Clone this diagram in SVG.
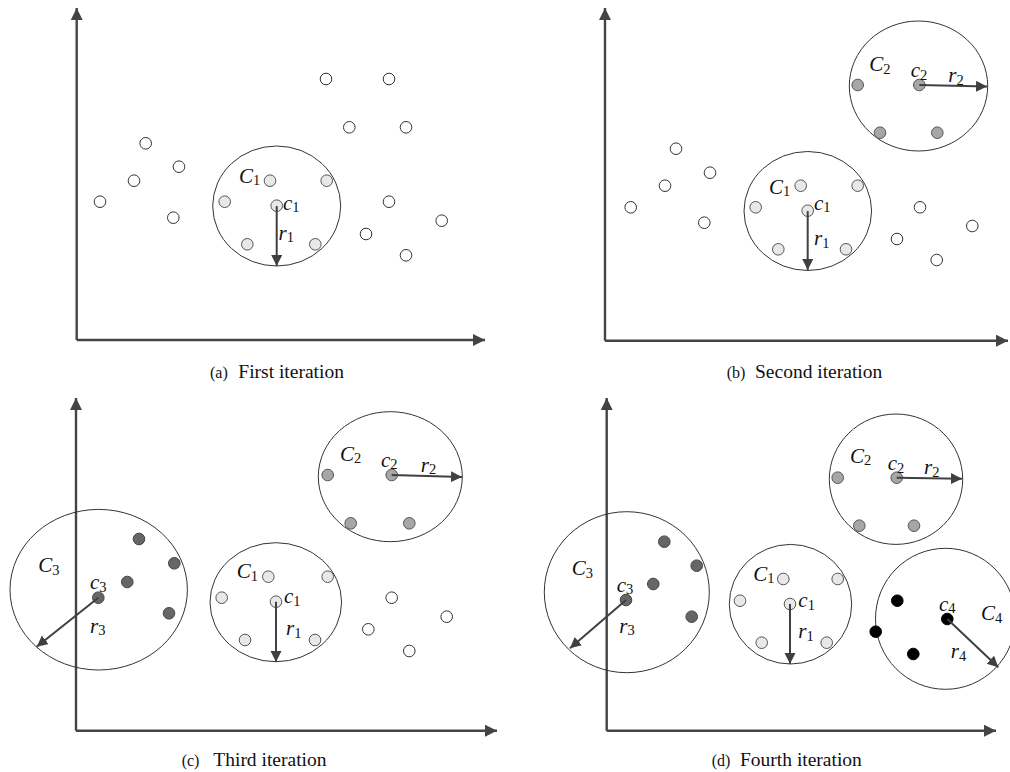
<svg xmlns="http://www.w3.org/2000/svg" width="1010" height="772" viewBox="0 0 1010 772">
<style>
.ax{stroke:#444;stroke-width:2.4;fill:none}
.cl{stroke:#333;stroke-width:1;fill:none}
.ar{stroke:#404040;stroke-width:2;fill:none}
.p0{fill:#fff;stroke:#333;stroke-width:1}
.p1{fill:#e8e8e8;stroke:#555;stroke-width:1}
.p2{fill:#a6a6a6;stroke:#555;stroke-width:1}
.p3{fill:#666;stroke:#444;stroke-width:1}
.p4{fill:#000;stroke:#000;stroke-width:1}
.lb{font-family:"Liberation Serif","Times New Roman",serif;font-size:21px;font-style:italic;fill:#111}
.sb{font-style:normal;font-size:14.5px}
.cap{font-family:"Liberation Serif","Times New Roman",serif;font-size:19.5px;fill:#111}
.capl{font-size:16px}
</style>
<defs>
<marker id="ah" markerUnits="userSpaceOnUse" markerWidth="12" markerHeight="12" refX="11" refY="5.5" orient="auto"><path d="M0,0 L11,5.5 L0,11 z" fill="#404040"/></marker>
<marker id="axh" markerUnits="userSpaceOnUse" markerWidth="13" markerHeight="13" refX="12" refY="6" orient="auto"><path d="M0,0 L12,6 L0,12 z" fill="#444"/></marker>
</defs>
<rect width="1010" height="772" fill="#fff"/>

<!-- Panel a -->
<g id="panel-a">
<g id="axes-a"><path class="ax" d="M76.7,340 V8" marker-end="url(#axh)"/><path class="ax" d="M76.7,340 H485" marker-end="url(#axh)"/></g>
<g id="cluster-a-C1"><ellipse class="cl" cx="276.7" cy="206" rx="64" ry="60"/>
<circle class="p1" cx="270" cy="180.7" r="5.8"/><circle class="p1" cx="326.7" cy="180.7" r="5.8"/><circle class="p1" cx="224.7" cy="201.7" r="5.8"/><circle class="p1" cx="276.7" cy="205.7" r="5.8"/><circle class="p1" cx="247.3" cy="244.3" r="5.8"/><circle class="p1" cx="315.3" cy="244.3" r="5.8"/></g>
<g id="points-a">
<circle class="p0" cx="326" cy="79" r="5.8"/><circle class="p0" cx="389" cy="79" r="5.8"/><circle class="p0" cx="349.3" cy="127.3" r="5.8"/><circle class="p0" cx="406" cy="127.3" r="5.8"/><circle class="p0" cx="145.7" cy="143.3" r="5.8"/><circle class="p0" cx="179" cy="166.7" r="5.8"/><circle class="p0" cx="134" cy="180.7" r="5.8"/><circle class="p0" cx="100" cy="201.7" r="5.8"/><circle class="p0" cx="173.3" cy="217.7" r="5.8"/><circle class="p0" cx="389" cy="201.7" r="5.8"/><circle class="p0" cx="441.7" cy="220.7" r="5.8"/><circle class="p0" cx="366" cy="234" r="5.8"/><circle class="p0" cx="406" cy="255.3" r="5.8"/>
</g>
<g id="labels-a">
<text class="lb" x="239" y="182.5">C<tspan class="sb" dy="2.5">1</tspan></text>
<text class="lb" x="283" y="209.5">c<tspan class="sb" dy="2.5">1</tspan></text>
<text class="lb" x="278.5" y="239.5">r<tspan class="sb" dy="2.5">1</tspan></text>
</g>
<text class="cap" x="210" y="377.7"><tspan class="capl">(a)</tspan><tspan x="238.3">First iteration</tspan></text>
</g>

<!-- Panel b -->
<g id="panel-b">
<g id="axes-b"><path class="ax" d="M605,340.7 V8" marker-end="url(#axh)"/><path class="ax" d="M605,340.7 H1008" marker-end="url(#axh)"/></g>
<g id="cluster-b-C2"><ellipse class="cl" cx="918.5" cy="86" rx="69.2" ry="65"/>
<circle class="p2" cx="857.7" cy="85" r="5.8"/><circle class="p2" cx="919.3" cy="85" r="5.8"/><circle class="p2" cx="880" cy="132.7" r="5.8"/><circle class="p2" cx="937.3" cy="132.7" r="5.8"/></g>
<g id="cluster-b-C1"><ellipse class="cl" cx="807.8" cy="211" rx="63.8" ry="59.5"/>
<circle class="p1" cx="800.7" cy="185.7" r="5.8"/><circle class="p1" cx="857.7" cy="185.7" r="5.8"/><circle class="p1" cx="755.7" cy="207.3" r="5.8"/><circle class="p1" cx="807.7" cy="210.7" r="5.8"/><circle class="p1" cx="778.3" cy="249.3" r="5.8"/><circle class="p1" cx="846" cy="249.3" r="5.8"/></g>
<g id="points-b">
<circle class="p0" cx="676" cy="148.7" r="5.8"/><circle class="p0" cx="710" cy="172.7" r="5.8"/><circle class="p0" cx="665" cy="185.7" r="5.8"/><circle class="p0" cx="630.7" cy="207.3" r="5.8"/><circle class="p0" cx="704.3" cy="222.7" r="5.8"/><circle class="p0" cx="920" cy="207.3" r="5.8"/><circle class="p0" cx="972.3" cy="226" r="5.8"/><circle class="p0" cx="897" cy="239" r="5.8"/><circle class="p0" cx="936.7" cy="260" r="5.8"/>
</g>
<g id="labels-b">
<text class="lb" x="869.3" y="71">C<tspan class="sb" dy="2.5">2</tspan></text>
<text class="lb" x="910.7" y="77">c<tspan class="sb" dy="2.5">2</tspan></text>
<text class="lb" x="948.3" y="82">r<tspan class="sb" dy="2.5">2</tspan></text>
<text class="lb" x="769" y="193.5">C<tspan class="sb" dy="2.5">1</tspan></text>
<text class="lb" x="814" y="209.5">c<tspan class="sb" dy="2.5">1</tspan></text>
<text class="lb" x="814" y="245">r<tspan class="sb" dy="2.5">1</tspan></text>
</g>
<text class="cap" x="726.7" y="377.7"><tspan class="capl">(b)</tspan><tspan x="755">Second iteration</tspan></text>
</g>

<!-- Panel c -->
<g id="panel-c">
<g id="axes-c"><path class="ax" d="M76,730.7 V398" marker-end="url(#axh)"/><path class="ax" d="M76,730.7 H497" marker-end="url(#axh)"/></g>
<g id="cluster-c-C2"><ellipse class="cl" cx="390.3" cy="476.7" rx="72" ry="65"/>
<circle class="p2" cx="327.7" cy="475" r="5.8"/><circle class="p2" cx="391.7" cy="475" r="5.8"/><circle class="p2" cx="350.7" cy="523.3" r="5.8"/><circle class="p2" cx="409.3" cy="523.3" r="5.8"/></g>
<g id="cluster-c-C3"><ellipse class="cl" cx="98.7" cy="589.7" rx="88.7" ry="80.3"/>
<circle class="p3" cx="139" cy="539" r="5.8"/><circle class="p3" cx="174.3" cy="563.3" r="5.8"/><circle class="p3" cx="127.3" cy="582" r="5.8"/><circle class="p3" cx="98.3" cy="597.7" r="5.8"/><circle class="p3" cx="169" cy="613.3" r="5.8"/></g>
<g id="cluster-c-C1"><ellipse class="cl" cx="275.8" cy="602.2" rx="65.8" ry="59.5"/>
<circle class="p1" cx="268.3" cy="576.7" r="5.8"/><circle class="p1" cx="327.7" cy="576.7" r="5.8"/><circle class="p1" cx="221.7" cy="597.7" r="5.8"/><circle class="p1" cx="276" cy="601.7" r="5.8"/><circle class="p1" cx="245" cy="640" r="5.8"/><circle class="p1" cx="315" cy="640" r="5.8"/></g>
<g id="points-c">
<circle class="p0" cx="391.7" cy="597.7" r="5.8"/><circle class="p0" cx="446.7" cy="616.7" r="5.8"/><circle class="p0" cx="368.3" cy="629.3" r="5.8"/><circle class="p0" cx="409.3" cy="651" r="5.8"/>
</g>
<g id="labels-c">
<text class="lb" x="340" y="460.5">C<tspan class="sb" dy="2.5">2</tspan></text>
<text class="lb" x="381" y="466.7">c<tspan class="sb" dy="2.5">2</tspan></text>
<text class="lb" x="420.7" y="471.7">r<tspan class="sb" dy="2.5">2</tspan></text>
<text class="lb" x="38.3" y="572.3">C<tspan class="sb" dy="2.5">3</tspan></text>
<text class="lb" x="90" y="589">c<tspan class="sb" dy="2.5">3</tspan></text>
<text class="lb" x="90" y="632.7">r<tspan class="sb" dy="2.5">3</tspan></text>
<text class="lb" x="236.7" y="578.3">C<tspan class="sb" dy="2.5">1</tspan></text>
<text class="lb" x="284" y="603.3">c<tspan class="sb" dy="2.5">1</tspan></text>
<text class="lb" x="286" y="635">r<tspan class="sb" dy="2.5">1</tspan></text>
</g>
<text class="cap" x="181.7" y="765.7"><tspan class="capl">(c)</tspan><tspan x="213.3">Third iteration</tspan></text>
</g>

<!-- Panel d -->
<g id="panel-d">
<g id="axes-d"><path class="ax" d="M606.7,730.7 V398" marker-end="url(#axh)"/><path class="ax" d="M606.7,730.7 H996" marker-end="url(#axh)"/></g>
<g id="cluster-d-C2"><ellipse class="cl" cx="896" cy="479.2" rx="66.7" ry="65.2"/>
<circle class="p2" cx="837.7" cy="477.7" r="5.8"/><circle class="p2" cx="896.7" cy="477.7" r="5.8"/><circle class="p2" cx="859.3" cy="525.7" r="5.8"/><circle class="p2" cx="914" cy="525.7" r="5.8"/></g>
<g id="cluster-d-C3"><ellipse class="cl" cx="626.8" cy="592.2" rx="82.5" ry="80.5"/>
<circle class="p3" cx="664.3" cy="541.7" r="5.8"/><circle class="p3" cx="696.7" cy="565.7" r="5.8"/><circle class="p3" cx="653.3" cy="584" r="5.8"/><circle class="p3" cx="626" cy="600" r="5.8"/><circle class="p3" cx="691.7" cy="616.7" r="5.8"/></g>
<g id="cluster-d-C1"><ellipse class="cl" cx="790.5" cy="604.2" rx="61.2" ry="59.8"/>
<circle class="p1" cx="783.3" cy="579" r="5.8"/><circle class="p1" cx="837.7" cy="579" r="5.8"/><circle class="p1" cx="740" cy="600.7" r="5.8"/><circle class="p1" cx="790" cy="604" r="5.8"/><circle class="p1" cx="761.7" cy="642.7" r="5.8"/><circle class="p1" cx="826.7" cy="642.7" r="5.8"/></g>
<g id="cluster-d-C4"><ellipse class="cl" cx="945.5" cy="618.8" rx="70" ry="70.5"/>
<circle class="p4" cx="897.3" cy="600.7" r="5.8"/><circle class="p4" cx="947.3" cy="619" r="5.8"/><circle class="p4" cx="875.7" cy="631.7" r="5.8"/><circle class="p4" cx="913.3" cy="654" r="5.8"/></g>
<g id="labels-d">
<text class="lb" x="850" y="462.7">C<tspan class="sb" dy="2.5">2</tspan></text>
<text class="lb" x="887.7" y="470">c<tspan class="sb" dy="2.5">2</tspan></text>
<text class="lb" x="924" y="474">r<tspan class="sb" dy="2.5">2</tspan></text>
<text class="lb" x="571.7" y="575">C<tspan class="sb" dy="2.5">3</tspan></text>
<text class="lb" x="616.7" y="591.7">c<tspan class="sb" dy="2.5">3</tspan></text>
<text class="lb" x="619.3" y="632.7">r<tspan class="sb" dy="2.5">3</tspan></text>
<text class="lb" x="753.3" y="580.7">C<tspan class="sb" dy="2.5">1</tspan></text>
<text class="lb" x="798.3" y="607.3">c<tspan class="sb" dy="2.5">1</tspan></text>
<text class="lb" x="798.3" y="638.3">r<tspan class="sb" dy="2.5">1</tspan></text>
<text class="lb" x="939" y="610.7">c<tspan class="sb" dy="2.5">4</tspan></text>
<text class="lb" x="981" y="620">C<tspan class="sb" dy="2.5">4</tspan></text>
<text class="lb" x="950.7" y="658.3">r<tspan class="sb" dy="2.5">4</tspan></text>
</g>
<text class="cap" x="711.7" y="765.7"><tspan class="capl">(d)</tspan><tspan x="740">Fourth iteration</tspan></text>
</g>

<!-- Connectors (radius arrows) -->
<g id="connectors">
<path class="ar" d="M276.7,206 V266" marker-end="url(#ah)"/>
<path class="ar" d="M807.7,211 V270" marker-end="url(#ah)"/>
<path class="ar" d="M919.3,85 L987,86.5" marker-end="url(#ah)"/>
<path class="ar" d="M391.7,475 L462,477" marker-end="url(#ah)"/>
<path class="ar" d="M98.3,597.7 L36.7,646.7" marker-end="url(#ah)"/>
<path class="ar" d="M276,601.7 V662" marker-end="url(#ah)"/>
<path class="ar" d="M896.7,477.7 L962,478.7" marker-end="url(#ah)"/>
<path class="ar" d="M626,600 L570,648.3" marker-end="url(#ah)"/>
<path class="ar" d="M790,604 V664" marker-end="url(#ah)"/>
<path class="ar" d="M947.3,619 L998.3,667.3" marker-end="url(#ah)"/>
</g>
</svg>
